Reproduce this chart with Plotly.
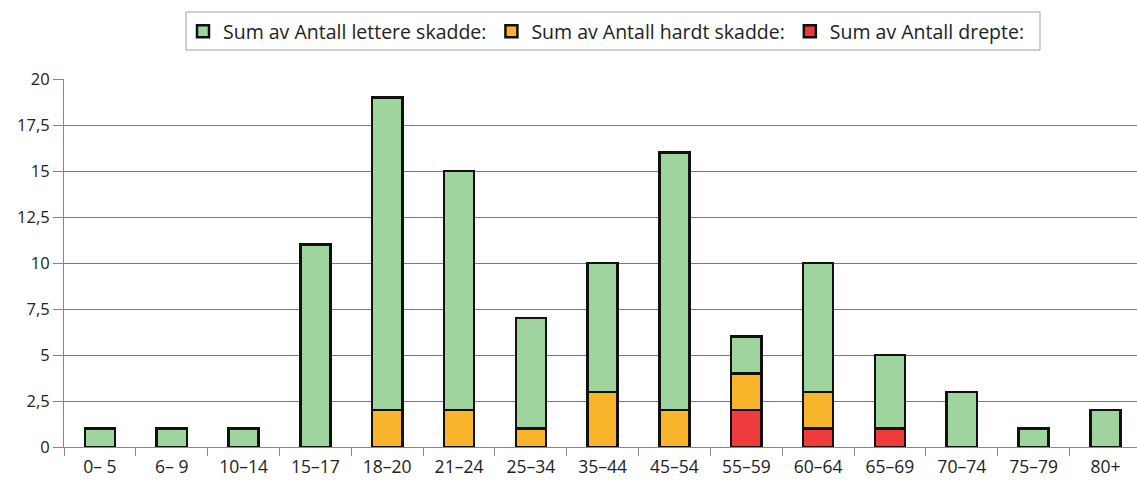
import plotly.graph_objects as go

# Age groups and injury counts per group
age_groups = ["0\u2013 5", "6\u2013 9", "10\u201314", "15\u201317", "18\u201320", "21\u201324",
              "25\u201334", "35\u201344", "45\u201354", "55\u201359", "60\u201364", "65\u201369",
              "70\u201374", "75\u201379", "80+"]
drepte = [0, 0, 0, 0, 0, 0, 0, 0, 0, 2, 1, 1, 0, 0, 0]
hardt_skadde = [0, 0, 0, 0, 2, 2, 1, 3, 2, 2, 2, 0, 0, 0, 0]
lettere_skadde = [1, 1, 1, 11, 17, 13, 6, 7, 14, 2, 7, 4, 3, 1, 2]

y_ticks = [0, 2.5, 5, 7.5, 10, 12.5, 15, 17.5, 20]

GREEN = "#9fd49f"
ORANGE = "#f8b42a"
RED = "#ee3b3b"
OUTLINE = dict(color="#111111", width=2.5)
FONT = "Open Sans, Noto Sans, sans-serif"

W, H = 1137, 481
L, R, T, B = 64, 0, 79, 34
PW, PH = W - L - R, H - T - B


def px_x(p):
    return (p - L) / PW


def px_y(p):
    return (H - B - p) / PH


fig = go.Figure()
# Stacked bottom-to-top: killed, seriously injured, slightly injured
fig.add_trace(go.Bar(x=age_groups, y=drepte, name="Sum av Antall drepte:",
                     marker=dict(color=RED, line=OUTLINE), legendrank=3))
fig.add_trace(go.Bar(x=age_groups, y=hardt_skadde, name="Sum av Antall hardt skadde:",
                     marker=dict(color=ORANGE, line=OUTLINE), legendrank=2))
fig.add_trace(go.Bar(x=age_groups, y=lettere_skadde, name="Sum av Antall lettere skadde:",
                     marker=dict(color=GREEN, line=OUTLINE), legendrank=1))

# Frame around the legend
fig.add_shape(type="rect", xref="paper", yref="paper",
              x0=px_x(186), x1=px_x(1040), y0=px_y(50), y1=px_y(12),
              line=dict(color="#a0a0a0", width=1), layer="below")

fig.update_layout(
    width=W, height=H,
    barmode="stack", bargap=0.58,
    separators=", ",
    plot_bgcolor="white", paper_bgcolor="white",
    margin=dict(l=L, r=R, t=T, b=B),
    font=dict(family=FONT, size=16, color="#222222"),
    legend=dict(orientation="h", x=px_x(183), y=px_y(12), xanchor="left", yanchor="top",
                font=dict(family=FONT, size=19.5, color="#222222"),
                bgcolor="rgba(0,0,0,0)", borderwidth=0,
                traceorder="normal"),
    showlegend=True,
)
fig.update_xaxes(
    type="category", range=[-0.5, 14.44],
    showgrid=False, showline=True, linecolor="#888888", linewidth=1,
    ticks="outside", tickson="boundaries", ticklen=8, tickcolor="#888888",
    ticklabelstandoff=4,
    tickfont=dict(family=FONT, size=17.5, color="#222222"),
)
fig.update_yaxes(
    range=[0, 20], tickvals=y_ticks,
    showgrid=True, gridcolor="#7a7a7a", gridwidth=1,
    showline=True, linecolor="#888888", linewidth=1,
    ticks="outside", ticklen=10, tickcolor="#888888",
    tickfont=dict(family=FONT, size=16.5, color="#222222"),
    zeroline=False,
)

fig.write_html("out.html")
